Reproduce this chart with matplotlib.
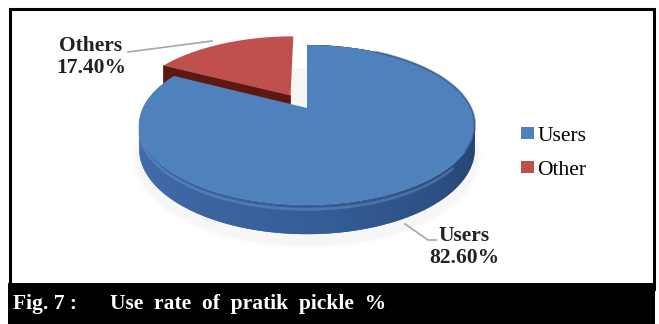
import numpy as np
import matplotlib.pyplot as plt
from matplotlib.patches import Polygon, Rectangle, Patch

# shares of the two groups, in percent
slice_names = ['Users', 'Others']
legend_names = ['Users', 'Other']
shares = [82.60, 17.40]
top_colors = ['#4f81bd', '#c0504d']
caption = ['Fig. 7 :', 'Use  rate  of  pratik  pickle  %']

W, H = 659, 324
fig = plt.figure(figsize=(W / 100, H / 100), dpi=100)
ax = fig.add_axes([0, 0, 1, 1])
ax.set_xlim(0, W)
ax.set_ylim(H, 0)
ax.axis('off')

serif = ['Liberation Serif', 'DejaVu Serif']

# perspective projection of the pie disc (unit circle, Y pointing back)
cx, cy0 = 307.0, 108.0
A, B, P, D = 164.0, 76.4, 0.212, 23.0


def proj(X, Y, Z=0.0):
    w = 1.0 + P * Y
    return cx + A * X / w, cy0 - B * Y / w + D * Z / w


def arc(t0, t1, off=(0.0, 0.0), Z=0.0, n=200):
    t = np.radians(np.linspace(t0, t1, n))
    X = np.cos(t) + off[0]
    Y = np.sin(t) + off[1]
    return np.column_stack(proj(X, Y, Z))


def mix(c0, c1, f):
    return tuple((1 - f) * a + f * b for a, b in zip(c0, c1))


# angles of each slice, counter-clockwise from 12 o'clock
start = 90.0
spans = []
for s in shares[::-1]:
    spans.append((start, start + s * 3.6))
    start += s * 3.6
oth_span, usr_span = spans[0], spans[1]

# soft shadow under the disc
for k, a in enumerate([0.03, 0.02, 0.015]):
    t = np.radians(np.linspace(0, 360, 300))
    sc = 1.0 + 0.012 * (k + 1)
    pts = np.column_stack(proj(np.cos(t) * sc, np.sin(t) * sc - 0.03, 1.2))
    ax.add_patch(Polygon(pts, closed=True, fc='#808080', ec='none', alpha=a, zorder=1))

# exploded "Others" slice
mid = np.radians(np.mean(oth_span))
off = (0.2 * np.cos(mid), 0.2 * np.sin(mid))
c_top = proj(off[0], off[1])
c_bot = proj(off[0], off[1], 1.0)
t1 = np.radians(oth_span[1])
e_top = proj(np.cos(t1) + off[0], np.sin(t1) + off[1])
e_bot = proj(np.cos(t1) + off[0], np.sin(t1) + off[1], 1.0)
ax.add_patch(Polygon([c_top, e_top, e_bot, c_bot], closed=True,
                     fc='#5e1812', ec='#5e1812', lw=0.5, zorder=2))
red_top = np.vstack([[c_top], arc(*oth_span, off=off)])
ax.add_patch(Polygon(red_top, closed=True, fc=top_colors[1], ec='none', zorder=3))

# "Users" slice: side wall drawn in overlapping thin strips, shaded by angle
c_left = (0.27, 0.44, 0.69)
c_front = (0.21, 0.37, 0.60)
c_right = (0.13, 0.24, 0.40)
ts = np.linspace(usr_span[0], usr_span[1], 300)
step = ts[1] - ts[0]
for a0 in ts[:-1]:
    am = (a0 + 0.5 * step) % 360
    if am < 90:
        col = c_right
    elif am < 180:
        col = c_left
    elif am < 270:
        col = mix(c_left, c_front, (am - 180) / 90)
    else:
        col = mix(c_front, c_right, (am - 270) / 90)
    a1 = min(a0 + 2.2 * step, usr_span[1])
    up = arc(a0, a1, n=4)
    dn = arc(a0, a1, Z=1.0, n=4)[::-1]
    ax.add_patch(Polygon(np.vstack([up, dn]), closed=True, fc=col, ec='none',
                         zorder=4))

# light rim along the front edge of the side wall
rim = arc(175, 320, Z=0.15)
ax.plot(rim[:, 0], rim[:, 1], color='#7ea6d8', lw=2.0, alpha=0.35, zorder=5)

blue_top = np.vstack([[proj(0, 0)], arc(*usr_span)])
ax.add_patch(Polygon(blue_top, closed=True, fc=top_colors[0], ec='none', zorder=6))
edge = arc(-30, 60)
ax.plot(edge[:, 0], edge[:, 1], color='#2c4e7e', lw=1.6, alpha=0.5, zorder=7)

# data labels with leader lines
lab_kw = dict(fontsize=15.5, fontweight='bold', family=serif, color='#222222',
              ha='center', va='center', linespacing=1.1, zorder=9)
ax.text(91, 57, '%s\n%.2f%%' % (slice_names[1], shares[1]), **lab_kw)
ax.plot([128, 212], [52, 41], color='#a6a6a6', lw=1.2, zorder=8)
ax.text(464, 247, '%s\n%.2f%%' % (slice_names[0], shares[0]), **lab_kw)
ax.plot([405, 428, 436], [224, 240, 240], color='#a6a6a6', lw=1.2, zorder=8)

# legend
handles = [Patch(fc=c, ec='none') for c in top_colors]
ax.legend(handles, legend_names, loc='upper left', frameon=False,
          bbox_to_anchor=(521 / W, 1 - 126.5 / H), borderpad=0, borderaxespad=0,
          handlelength=0.6, handleheight=0.5, handletextpad=0.15,
          labelspacing=0.72, prop={'family': serif, 'size': 15.5})

# frame and caption bar
ax.add_patch(Rectangle((10, 8.5), 643.5, 280, fc='none', ec='black', lw=2.2, zorder=10))
ax.add_patch(Rectangle((8, 283), 647, 41, fc='black', ec='none', zorder=11))
cap_kw = dict(fontsize=15.5, fontweight='bold', family=serif, color='white',
              va='center', ha='left', zorder=12)
ax.text(13, 304, caption[0], **cap_kw)
ax.text(110, 304, caption[1], **cap_kw)

fig.savefig('out.png', dpi=100)
